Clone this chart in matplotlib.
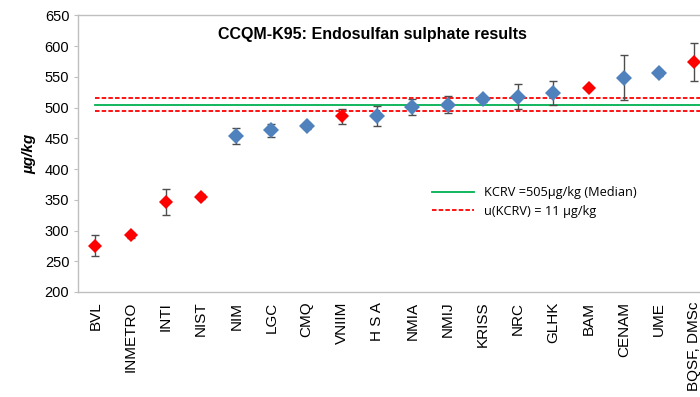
import numpy as np
import matplotlib.pyplot as plt
from matplotlib.lines import Line2D

# participants, sorted by result
labs = ['BVL', 'INMETRO', 'INTI', 'NIST', 'NIM', 'LGC', 'CMQ', 'VNIIM', 'H S A',
        'NMIA', 'NMIJ', 'KRISS', 'NRC', 'GLHK', 'BAM', 'CENAM', 'UME', 'BQSF, DMSc']
vals = [275, 292, 347, 355, 454, 463, 470, 486, 486,
        501, 505, 514, 518, 524, 532, 549, 556, 574]
errs = [17, 4, 21, 4, 13, 11, 5, 12, 16,
        13, 14, 4, 21, 20, 0, 36, 5, 31]
# 1 = red marker (excluded from KCRV), 0 = blue
red = [1, 1, 1, 1, 0, 0, 0, 1, 0,
       0, 0, 0, 0, 0, 1, 0, 0, 1]

kcrv = 505
u_kcrv = 11

plt.rcParams['font.family'] = ['Liberation Sans', 'DejaVu Sans']

fig = plt.figure(figsize=(7.0, 3.97), dpi=100)
ax = fig.add_axes([0.111, 0.2645, 0.906, 0.6965])

x = np.arange(len(labs))
for i in range(len(labs)):
    c = '#FF0000' if red[i] else '#4F81BD'
    ms = 7.5 if red[i] else 8.5
    if errs[i] > 0:
        ax.errorbar(x[i], vals[i], yerr=errs[i], fmt='none', ecolor='#4D4D4D',
                    elinewidth=1, capsize=3, capthick=1, zorder=3)
    ax.plot(x[i], vals[i], 'D', color=c, ms=ms, mew=0, zorder=4)

xl = [x[0], x[-1] + 1]
dash = (0, (2.5, 1.2))
ax.plot(xl, [kcrv, kcrv], color='#00B050', lw=1.3, zorder=2)
ax.plot(xl, [kcrv + u_kcrv] * 2, color='#FF0000', lw=1.3, ls=dash, zorder=2)
ax.plot(xl, [kcrv - u_kcrv] * 2, color='#FF0000', lw=1.3, ls=dash, zorder=2)

ax.set_xlim(-0.5, len(labs) - 0.5)
ax.set_ylim(200, 650)
ax.set_yticks(np.arange(200, 651, 50))
ax.set_xticks(x)
ax.set_xticklabels(labs, rotation=90, fontsize=11)
ax.tick_params(axis='y', labelsize=10.5, length=3, color='#BFBFBF', pad=3)
ax.tick_params(axis='x', length=0, pad=7)
for s in ax.spines.values():
    s.set_color('#BFBFBF')
    s.set_linewidth(1)

ax.set_ylabel('µg/kg', fontsize=11, fontstyle='italic', fontweight='bold', labelpad=6)
fig.text(0.532, 0.914, 'CCQM-K95: Endosulfan sulphate results', ha='center', va='center',
         fontsize=11.5, fontweight='bold')

handles = [Line2D([], [], color='#00B050', lw=1.3),
           Line2D([], [], color='#FF0000', lw=1.3, ls=dash)]
fig.legend(handles, ['KCRV =505µg/kg (Median)', 'u(KCRV) = 11 µg/kg'],
           loc='upper left', bbox_to_anchor=(0.6, 0.56), frameon=False,
           handlelength=3.3, labelspacing=0.45, handletextpad=0.8,
           prop={'family': ['Open Sans', 'DejaVu Sans'], 'size': 9.2})

fig.savefig('out.png', dpi=100)
